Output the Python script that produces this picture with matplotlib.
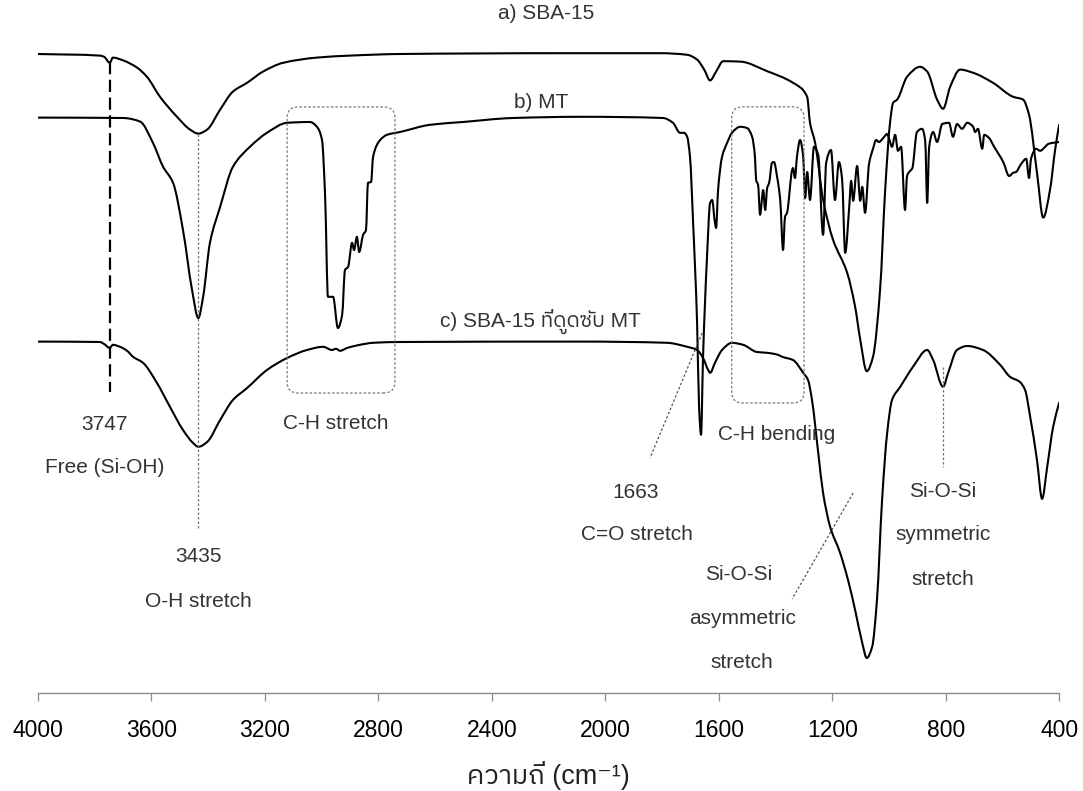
import numpy as np
import matplotlib
matplotlib.use("Agg")
import matplotlib.pyplot as plt
from matplotlib import font_manager
from matplotlib.ft2font import FT2Font
from matplotlib.patches import FancyBboxPatch, PathPatch
from matplotlib.path import Path

# ---------------------------------------------------------------------------
# FTIR spectra (wavenumber in cm^-1, relative transmittance in %)
# ---------------------------------------------------------------------------
sba_wn = [4000, 3782, 3767, 3747, 3736, 3700, 3651, 3616, 3570, 3510, 3464,
          3435, 3404, 3358, 3313, 3263, 3207, 3136, 3017, 2900, 2724, 2160,
          1807, 1712, 1677, 1652, 1631, 1610, 1585, 1525, 1430, 1339, 1289,
          1279, 1261, 1233, 1198, 1148, 1120, 1102, 1079, 1057, 1032, 1014,
          997, 986, 972, 937, 891, 866, 831, 810, 785, 750, 704, 634, 563,
          528, 507, 479, 457, 433, 415, 401]
sba_t = [100.0, 99.6, 99.3, 97.8, 99.1, 98.4, 96.6, 94.3, 89.3, 84.3, 81.1,
         80.1, 81.1, 86.1, 90.6, 92.8, 95.6, 97.8, 99.1, 99.6, 100.0, 100.2,
         100.2, 99.8, 98.6, 96.1, 93.4, 95.6, 98.2, 98.1, 95.7, 92.8, 89.3,
         82.8, 77.8, 63.6, 53.6, 45.3, 36.8, 28.6, 20.7, 24.3, 41.1, 66.1,
         82.8, 87.8, 88.6, 94.3, 96.8, 95.6, 88.6, 86.3, 91.8, 96.1, 95.3,
         92.8, 89.3, 88.6, 84.8, 70.3, 59.1, 66.1, 76.1, 82.3]

mt_wn = [4000, 3700, 3640, 3595, 3559, 3524, 3489, 3457, 3435, 3418, 3394,
         3358, 3313, 3253, 3193, 3122, 3041, 3017, 2999, 2988, 2978, 2960,
         2943, 2928, 2918, 2907, 2893, 2886, 2876, 2868, 2854, 2844, 2837,
         2826, 2819, 2794, 2770, 2724, 2618, 2502, 2326, 2089, 1797, 1762,
         1737, 1723, 1712, 1702, 1691, 1677, 1670, 1663, 1656, 1642, 1631,
         1624, 1614, 1610, 1603, 1589, 1571, 1554, 1525, 1501, 1483, 1473,
         1469, 1462, 1455, 1444, 1437, 1430, 1423, 1413, 1406, 1395, 1384,
         1374, 1367, 1360, 1342, 1339, 1332, 1325, 1314, 1303, 1296, 1289,
         1279, 1265, 1250, 1233, 1222, 1205, 1191, 1177, 1166, 1155, 1141,
         1134, 1127, 1113, 1102, 1095, 1085, 1071, 1057, 1046, 1036, 1021,
         1007, 1000, 990, 979, 969, 958, 944, 937, 926, 919, 902, 884, 873,
         866, 859, 845, 831, 813, 789, 775, 761, 743, 725, 704, 697, 687,
         672, 665, 648, 630, 598, 577, 563, 553, 535, 517, 507, 500, 482,
         468, 450, 440, 422, 401]
mt_t = [100.1, 100.0, 99.1, 93.8, 87.8, 83.8, 72.0, 57.0, 50.0, 55.3, 68.8,
        77.8, 87.8, 92.8, 96.3, 98.8, 99.0, 97.8, 94.5, 80.3, 55.3, 55.3,
        47.5, 50.8, 62.0, 62.8, 68.8, 67.0, 70.3, 66.5, 70.8, 72.0, 83.8,
        84.0, 90.3, 94.5, 95.8, 96.5, 98.3, 99.0, 100.0, 100.3, 100.0, 98.8,
        96.3, 96.3, 95.3, 90.3, 73.8, 48.8, 27.8, 20.8, 40.3, 65.3, 78.8,
        79.5, 73.8, 72.5, 82.0, 90.3, 93.8, 96.3, 97.8, 97.5, 95.3, 90.3,
        84.5, 83.3, 75.8, 82.0, 77.0, 82.5, 83.8, 88.8, 89.0, 85.3, 79.5,
        67.0, 75.3, 76.3, 87.0, 87.5, 85.0, 90.3, 94.5, 90.3, 80.0, 86.5,
        79.5, 92.8, 90.8, 70.8, 88.8, 92.0, 79.5, 89.0, 84.8, 66.3, 77.5,
        84.3, 79.3, 88.0, 79.3, 82.8, 76.3, 88.5, 92.3, 94.5, 94.0, 95.0,
        96.0, 94.8, 92.8, 95.8, 91.8, 92.8, 77.0, 85.5, 86.8, 87.3, 96.5,
        97.3, 94.3, 78.8, 92.8, 96.5, 94.0, 98.5, 98.8, 95.3, 98.5, 97.3,
        98.8, 97.8, 96.5, 97.3, 92.3, 95.8, 95.0, 92.8, 89.0, 85.5, 86.3,
        86.5, 88.5, 89.8, 85.0, 89.8, 92.3, 91.8, 92.8, 93.5, 93.8, 94.0]

sbamt_wn = [4000, 3782, 3767, 3747, 3736, 3711, 3686, 3665, 3630, 3581, 3535,
            3489, 3454, 3435, 3404, 3358, 3313, 3263, 3193, 3122, 3052, 2995,
            2964, 2950, 2935, 2911, 2865, 2819, 2724, 2089, 1783, 1712, 1677,
            1656, 1638, 1631, 1614, 1589, 1554, 1515, 1466, 1430, 1392, 1377,
            1339, 1303, 1286, 1272, 1250, 1233, 1208, 1173, 1145, 1120, 1095,
            1079, 1060, 1043, 1025, 1007, 990, 961, 916, 866, 845, 810, 792,
            761, 725, 669, 609, 574, 539, 521, 503, 479, 461, 443, 422, 401]
sbamt_t = [100.1, 100.0, 99.5, 98.5, 99.3, 98.8, 97.8, 96.3, 94.8, 89.8, 83.8,
           78.0, 74.8, 73.8, 75.0, 80.5, 85.5, 88.5, 93.0, 96.0, 98.0, 98.8,
           98.0, 98.3, 97.8, 98.5, 99.3, 99.8, 100.0, 100.1, 99.8, 98.8, 98.0,
           96.0, 93.0, 92.3, 94.8, 98.0, 99.8, 99.3, 97.5, 97.3, 96.8, 96.3,
           95.5, 92.3, 90.5, 85.5, 72.3, 62.3, 53.8, 47.3, 40.5, 33.0, 24.8,
           21.0, 23.8, 35.5, 60.5, 77.3, 85.5, 88.8, 93.8, 98.0, 95.5, 88.8,
           92.3, 98.0, 99.0, 98.0, 94.3, 91.3, 90.0, 88.0, 81.3, 70.5, 60.8,
           68.8, 78.8, 84.8]

series_labels = ["a) SBA-15", "b) MT", "c) SBA-15 ที่ดูดซับ MT"]
x_ticks = [4000, 3600, 3200, 2800, 2400, 2000, 1600, 1200, 800, 400]
x_label = "ความถี่ (cm⁻¹)"

# vertical stacking of the three spectra
offsets = [72, 56, 0]


def thai_family():
    """Return the name of an installed font that covers Thai script."""
    best = None
    for entry in font_manager.fontManager.ttflist:
        try:
            cmap = FT2Font(entry.fname).get_charmap()
        except Exception:
            continue
        if all(cp in cmap for cp in (0x0E04, 0x0E35, 0x0E48, 0x0E39)):
            if "Thai" in entry.name and "Looped" not in entry.name:
                return entry.name
            if best is None:
                best = entry.name
    return best or "DejaVu Sans"


def smooth_path(xs, ys):
    """Smoothed-line path through the points (monotone cubic Bezier segments)."""
    x = np.asarray(xs, float)
    y = np.asarray(ys, float)
    h = np.diff(x)
    d = np.diff(y) / h
    m = np.zeros_like(y)
    for k in range(1, len(x) - 1):
        if d[k - 1] * d[k] > 0:
            w1 = 2 * h[k] + h[k - 1]
            w2 = h[k] + 2 * h[k - 1]
            m[k] = (w1 + w2) / (w1 / d[k - 1] + w2 / d[k])
    m[0], m[-1] = d[0], d[-1]
    verts = [(x[0], y[0])]
    codes = [Path.MOVETO]
    for k in range(len(x) - 1):
        verts += [(x[k] + h[k] / 3, y[k] + m[k] * h[k] / 3),
                  (x[k + 1] - h[k] / 3, y[k + 1] - m[k + 1] * h[k] / 3),
                  (x[k + 1], y[k + 1])]
        codes += [Path.CURVE4] * 3
    return Path(verts, codes)


THAI = thai_family()
LATIN = "Liberation Sans"
plt.rcParams["font.family"] = [LATIN, THAI, "DejaVu Sans"]

W, H = 1083, 791
fig = plt.figure(figsize=(W / 100, H / 100), dpi=100)
ax_bottom_px = 692.8
ax = fig.add_axes([38 / W, (H - ax_bottom_px) / H, (1059.4 - 38) / W, ax_bottom_px / H])

for wn, t, off in zip([sba_wn, mt_wn, sbamt_wn], [sba_t, mt_t, sbamt_t], offsets):
    path = smooth_path(wn, [v + off for v in t])
    ax.add_patch(PathPatch(path, fill=False, edgecolor="black", lw=1.5,
                           joinstyle="round", capstyle="round"))

ax.set_xlim(4000, 400)
ax.set_ylim(12.3, 185.5)

for side in ("left", "right", "top"):
    ax.spines[side].set_visible(False)
ax.spines["bottom"].set_color("#8c8c8c")
ax.spines["bottom"].set_linewidth(1.0)
ax.set_yticks([])
ax.set_xticks(x_ticks)
ax.set_xticklabels([str(v) for v in x_ticks])
ax.tick_params(axis="x", direction="out", length=5.5, width=0.9, color="#8c8c8c",
               pad=13.5, labelsize=16.5, labelcolor="black")

ax.set_xlabel(x_label, fontsize=19.5, color="#222222")
ax.xaxis.set_label_coords(0.5, -0.098)

txt = dict(fontsize=15, color="#333333", ha="center", va="baseline")

# spectrum captions
ax.text(2209, 180.75, series_labels[0], **txt)
ax.text(2226, 158.5, series_labels[1], **txt)
ax.text(2230, 103.75, series_labels[2], **txt)

dotted = dict(color="#777777", lw=0.9, linestyle=(0, (2, 1.6)))

# free silanol
ax.plot([3747, 3747], [170.0, 87.5], color="black", lw=1.6, dashes=(5.5, 2.5))
ax.text(3765, 78.0, "3747", **txt)
ax.text(3765, 67.25, "Free (Si-OH)", **txt)

# O-H stretch
ax.plot([3435, 3435], [152.0, 53.0], **dotted)
ax.text(3435, 45.0, "3435", **txt)
ax.text(3435, 33.75, "O-H stretch", **txt)

# rounded frames around the C-H regions
aspect = 0.25 / 3.525
for (x0, x1, y0, y1) in [(2742, 3122, 87.25, 158.75), (1300, 1555, 84.75, 158.8)]:
    box = FancyBboxPatch((x0, y0), x1 - x0, y1 - y0,
                         boxstyle="round,pad=0,rounding_size=38",
                         mutation_aspect=aspect, fill=False,
                         edgecolor="#777777", lw=0.9, linestyle=(0, (2, 1.6)))
    ax.add_patch(box)
ax.text(2950, 78.25, "C-H stretch", **txt)
ax.text(1395, 75.5, "C-H bending", **txt)

# C=O stretch
ax.plot([1659, 1843], [102.25, 71.0], color="#555555", lw=0.9, linestyle=(0, (2, 1.6)))
ax.text(1892, 61.0, "1663", **txt)
ax.text(1889, 50.5, "C=O stretch", **txt)

# Si-O-Si asymmetric stretch
ax.plot([1127, 1342], [62.25, 35.75], color="#555555", lw=0.9, linestyle=(0, (2, 1.6)))
ax.text(1530, 40.5, "Si-O-Si", **txt)
ax.text(1518, 29.5, "asymmetric", **txt)
ax.text(1518, 18.5, "stretch", **txt)

# Si-O-Si symmetric stretch
ax.plot([810, 810], [93.75, 68.75], **dotted)
ax.text(810, 61.25, "Si-O-Si", **txt)
ax.text(810, 50.5, "symmetric", **txt)
ax.text(810, 39.25, "stretch", **txt)

fig.savefig("out.png", dpi=100)
